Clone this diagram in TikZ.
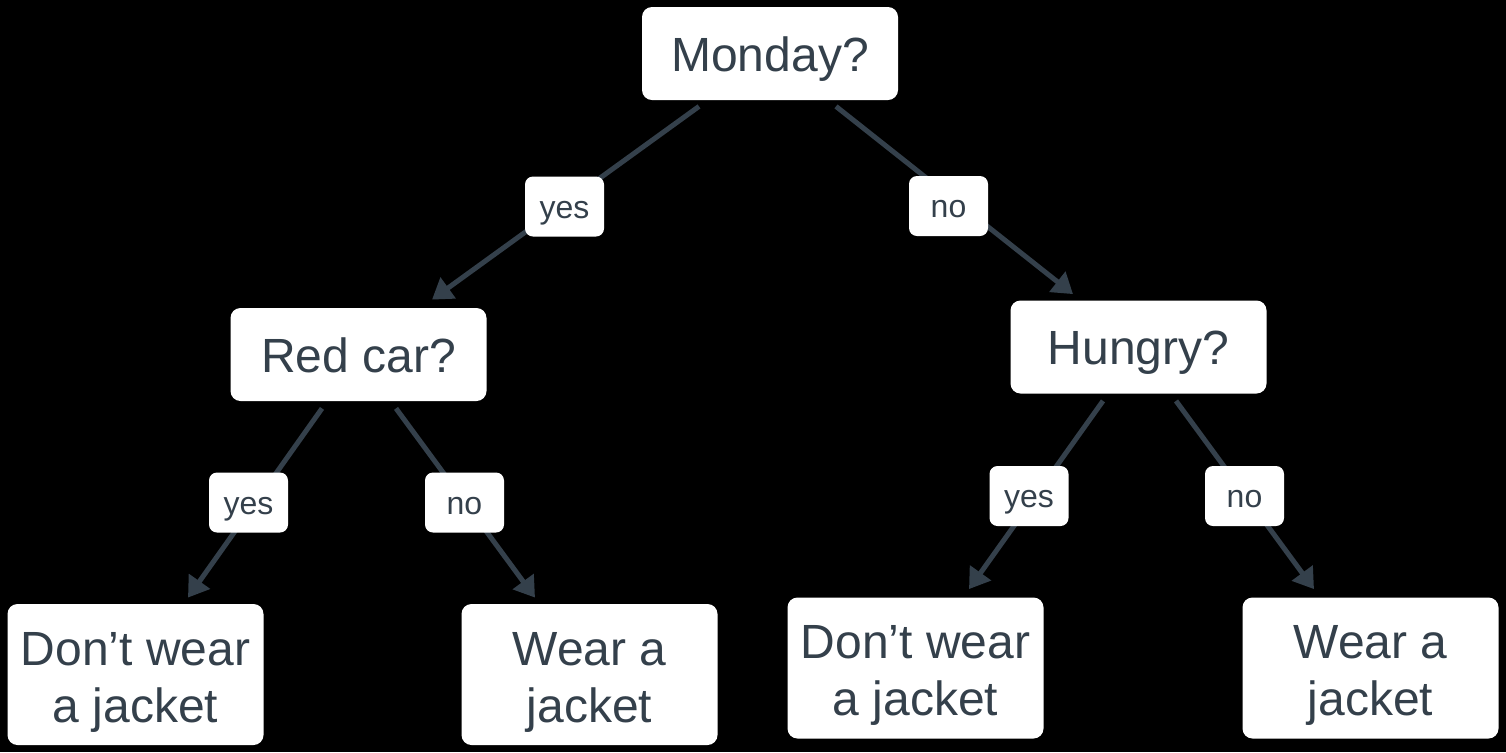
\documentclass[tikz,border=0pt]{standalone}
\usepackage{fontspec}
\setmainfont{Liberation Sans}
\usetikzlibrary{arrows.meta}
\definecolor{slate}{HTML}{34404B}
\tikzset{
box/.style={
	  fill=white, rounded corners=5pt, text=slate, inner sep=0pt,
	  minimum width=128pt, font=\fontsize{24}{28.5}\selectfont, align=center},
question/.style={box, minimum height=46.5pt, text height=17.5pt, text depth=0pt},
leaf/.style={box, minimum height=70.5pt, text height=47.5pt, text depth=0pt},
answer/.style={
	  fill=white, rounded corners=4pt, text=slate, inner sep=0pt,
	  minimum width=39.5pt, minimum height=30pt, text height=11.5pt, text depth=0pt,
	  font=\fontsize{16}{19}\selectfont},
edge/.style={
	  draw=slate, line width=2.5pt,
	  -{Triangle[length=10pt,width=12.5pt]}}
}

\begin{document}
\begin{tikzpicture}[x=0.5pt, y=-0.5pt]
	\fill[black] (0,0) rectangle (1506,752);
	\useasboundingbox (0,0) rectangle (1506,752);
	% questions
	\node[question] (monday) at (770,53.5) {Monday?};
	\node[question] (redcar) at (358.5,354.5) {Red car?};
	\node[question] (hungry) at (1138.5,347) {Hungry?};
	% leaves
	\node[leaf] (dontA) at (135.5,674.5) {Don’t wear\\a jacket};
	\node[leaf] (wearA) at (589.5,674.5) {Wear a\\jacket};
	\node[leaf] (dontB) at (915.5,668) {Don’t wear\\a jacket};
	\node[leaf] (wearB) at (1370.5,668) {Wear a\\jacket};
	% edges
	\draw[edge] ([shift={(-71,6)}]monday.south) -- ([shift={(73.5,-8)}]redcar.north);
	\draw[edge] ([shift={(66,6)}]monday.south) -- ([shift={(-65.5,-6)}]hungry.north);
	\draw[edge] ([shift={(-36.5,7)}]redcar.south) -- ([shift={(52.5,-6)}]dontA.north);
	\draw[edge] ([shift={(37.5,7)}]redcar.south) -- ([shift={(-54.5,-6)}]wearA.north);
	\draw[edge] ([shift={(-35.5,7)}]hungry.south) -- ([shift={(53.5,-8)}]dontB.north);
	\draw[edge] ([shift={(37.5,7)}]hungry.south) -- ([shift={(-56.5,-8)}]wearB.north);
	% answers
	\node[answer] (yesTop) at (564.5,206.5) {yes};
	\node[answer] (noTop) at (948.5,206) {no};
	\node[answer] (yesRed) at (248.5,502.5) {yes};
	\node[answer] (noRed) at (464.5,502.5) {no};
	\node[answer] (yesHun) at (1029,496) {yes};
	\node[answer] (noHun) at (1244.5,496) {no};
\end{tikzpicture}
\end{document}
